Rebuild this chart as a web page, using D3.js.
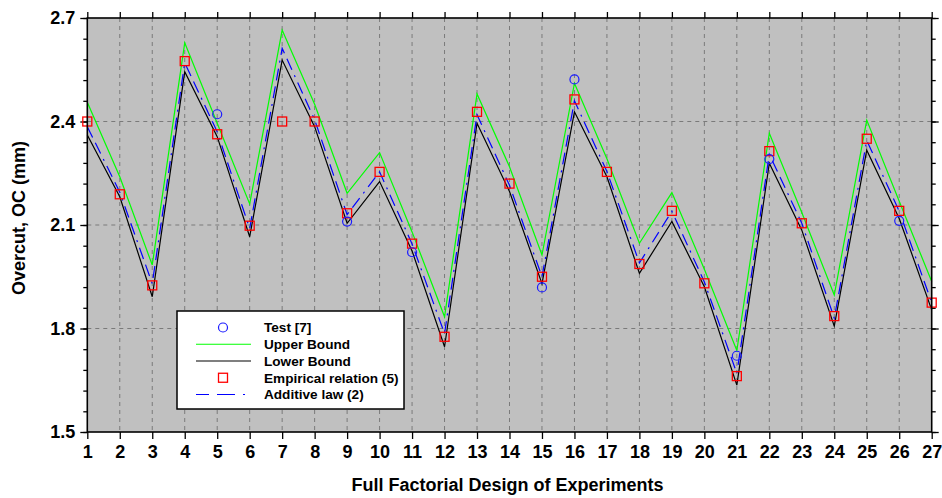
<!DOCTYPE html>
<html>
<head>
<meta charset="utf-8">
<script src="https://cdnjs.cloudflare.com/ajax/libs/d3/7.8.5/d3.min.js"></script>
<style>
  body { margin: 0; background: #fff; }
  text { font-family: "Liberation Sans", Arial, sans-serif; }
</style>
</head>
<body>
<div id="chart"></div>
<script>
// experiment numbers 1..27
const runs = [1,2,3,4,5,6,7,8,9,10,11,12,13,14,15,16,17,18,19,20,21,22,23,24,25,26,27];

// overcut values (mm)
const upperBound = [2.456,2.240,1.984,2.628,2.395,2.161,2.665,2.450,2.192,2.310,2.080,1.834,2.480,2.269,2.013,
                    2.511,2.292,2.047,2.194,1.972,1.736,2.366,2.136,1.897,2.404,2.169,1.936];
const lowerBound = [2.361,2.182,1.892,2.544,2.356,2.066,2.578,2.385,2.105,2.226,2.025,1.747,2.395,2.197,1.930,
                    2.428,2.240,1.960,2.110,1.921,1.636,2.279,2.085,1.807,2.317,2.119,1.854];
const additive   = [2.385,2.195,1.930,2.570,2.370,2.090,2.612,2.405,2.130,2.254,2.045,1.785,2.420,2.215,1.950,
                    2.460,2.255,1.990,2.140,1.935,1.670,2.305,2.105,1.830,2.345,2.140,1.875];
const empirical  = [2.400,2.189,1.925,2.575,2.363,2.098,2.400,2.400,2.134,2.254,2.046,1.776,2.428,2.220,1.950,
                    2.464,2.254,1.987,2.141,1.931,1.662,2.314,2.105,1.836,2.350,2.141,1.875];

// test results only exist for some runs
const testRuns   = [5,9,11,15,16,21,22,26];
const testValues = [2.421,2.110,2.021,1.919,2.522,1.721,2.291,2.112];

const yMajor = [1.5,1.8,2.1,2.4,2.7];
const legendLabels = ["Test [7]","Upper Bound","Lower Bound","Empirical relation (5)","Additive law (2)"];

const W = 942, H = 498;
const svg = d3.select("#chart").append("svg")
    .attr("width", W)
    .attr("height", H);

const x = d3.scaleLinear().domain([1,27]).range([87.3, 931.7]);
const y = d3.scaleLinear().domain([1.5,2.7]).range([432, 18]);

// plot background
svg.append("rect")
    .attr("x", x(1)).attr("y", y(2.7))
    .attr("width", x(27)-x(1)).attr("height", y(1.5)-y(2.7))
    .attr("fill", "#c0c0c0");

// dashed grid
const grid = svg.append("g").attr("stroke", "#7a7a7a").attr("stroke-width", 1).attr("stroke-dasharray", "4,4");
grid.selectAll("line.v").data(runs.slice(1, -1)).enter().append("line")
    .attr("x1", d => x(d)).attr("x2", d => x(d))
    .attr("y1", y(2.7)).attr("y2", y(1.5));
grid.selectAll("line.h").data(yMajor.slice(1, -1)).enter().append("line")
    .attr("x1", x(1)).attr("x2", x(27))
    .attr("y1", d => y(d)).attr("y2", d => y(d));

const minorVals = d3.range(0, 21).map(i => 1.5 + i*0.06);

function styleAxis(g) {
    g.select(".domain").remove();
    g.selectAll(".tick line").attr("stroke", "#000").attr("stroke-width", 1.3);
    g.selectAll(".tick text")
        .attr("fill", "#000")
        .style("font-size", "18px")
        .style("font-weight", "bold");
}

// left axis
svg.append("g").attr("transform", `translate(${x(1)},0)`)
    .call(d3.axisLeft(y).tickValues(minorVals).tickSize(4).tickFormat(""))
    .call(styleAxis);
svg.append("g").attr("transform", `translate(${x(1)},0)`)
    .call(d3.axisLeft(y).tickValues(yMajor).tickSize(7).tickPadding(5).tickFormat(d3.format(".1f")))
    .call(styleAxis);

// right axis
svg.append("g").attr("transform", `translate(${x(27)},0)`)
    .call(d3.axisRight(y).tickValues(minorVals).tickSize(4).tickFormat(""))
    .call(styleAxis);
svg.append("g").attr("transform", `translate(${x(27)},0)`)
    .call(d3.axisRight(y).tickValues(yMajor).tickSize(7).tickFormat(""))
    .call(styleAxis);

// top axis
svg.append("g").attr("transform", `translate(0,${y(2.7)})`)
    .call(d3.axisTop(x).tickValues(runs).tickSize(6).tickFormat(""))
    .call(styleAxis);

// bottom axis
svg.append("g").attr("transform", `translate(0,${y(1.5)})`)
    .call(d3.axisBottom(x).tickValues(runs).tickSize(7).tickPadding(6).tickFormat(d3.format("d")))
    .call(styleAxis);

// lines
const line = d3.line().x((d, i) => x(runs[i])).y(d => y(d));

svg.append("path").datum(upperBound)
    .attr("d", line).attr("fill", "none")
    .attr("stroke", "#00ff00").attr("stroke-width", 1.2);
svg.append("path").datum(lowerBound)
    .attr("d", line).attr("fill", "none")
    .attr("stroke", "#000").attr("stroke-width", 1.2);
svg.append("path").datum(additive)
    .attr("d", line).attr("fill", "none")
    .attr("stroke", "#0000ff").attr("stroke-width", 1.2)
    .attr("stroke-dasharray", "12,6,12,6,2,6");

// empirical squares
svg.append("g").selectAll("rect")
    .data(empirical).enter().append("rect")
    .attr("x", (d, i) => x(runs[i]) - 4.5)
    .attr("y", d => y(d) - 4.5)
    .attr("width", 9).attr("height", 9)
    .attr("fill", "none").attr("stroke", "#ff0000").attr("stroke-width", 1.3);

// test circles
svg.append("g").selectAll("circle")
    .data(testValues).enter().append("circle")
    .attr("cx", (d, i) => x(testRuns[i]))
    .attr("cy", d => y(d))
    .attr("r", 4.5)
    .attr("fill", "none").attr("stroke", "#1a1aff").attr("stroke-width", 1.2);

// frame
svg.append("rect")
    .attr("x", x(1)).attr("y", y(2.7))
    .attr("width", x(27)-x(1)).attr("height", y(1.5)-y(2.7))
    .attr("fill", "none").attr("stroke", "#000").attr("stroke-width", 1.6);

// legend
const lg = svg.append("g").attr("transform", "translate(177,311)");
lg.append("rect")
    .attr("width", 227).attr("height", 98)
    .attr("fill", "#fff").attr("stroke", "#000").attr("stroke-width", 1.5);

const rowY = d3.scalePoint().domain(legendLabels).range([16.5, 83.5]);

legendLabels.forEach(function(lbl, i) {
    const cy = rowY(lbl);
    if (i == 0) {
        lg.append("circle").attr("cx", 46).attr("cy", cy).attr("r", 4.5)
            .attr("fill", "none").attr("stroke", "#1a1aff").attr("stroke-width", 1.2);
    } else if (i == 3) {
        lg.append("rect").attr("x", 41.5).attr("y", cy - 4.5).attr("width", 9).attr("height", 9)
            .attr("fill", "none").attr("stroke", "#ff0000").attr("stroke-width", 1.3);
    } else {
        const colors = {1: "#00ff00", 2: "#000", 4: "#0000ff"};
        lg.append("line").attr("x1", 19).attr("x2", 74).attr("y1", cy).attr("y2", cy)
            .attr("stroke", colors[i]).attr("stroke-width", 1.2)
            .attr("stroke-dasharray", i == 4 ? "13,8,18,8,2" : null);
    }
    lg.append("text").attr("x", 87).attr("y", cy).attr("dy", "0.36em")
        .style("font-size", "13.6px").style("font-weight", "bold")
        .text(lbl);
});

// axis titles
svg.append("text")
    .attr("x", (x(1)+x(27))/2 - 2).attr("y", 491)
    .attr("text-anchor", "middle")
    .style("font-size", "18px").style("font-weight", "bold")
    .text("Full Factorial Design of Experiments");

svg.append("text")
    .attr("transform", `translate(25,${(y(1.5)+y(2.7))/2 - 7}) rotate(-90)`)
    .attr("text-anchor", "middle")
    .style("font-size", "18px").style("font-weight", "bold")
    .text("Overcut, OC (mm)");
</script>
</body>
</html>
